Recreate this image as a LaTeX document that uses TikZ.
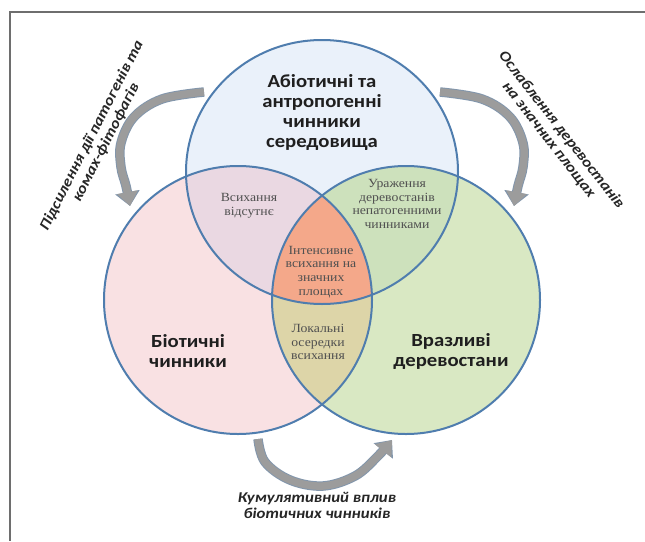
\documentclass[tikz,border=0pt]{standalone}
\usepackage{fontspec}
\setmainfont[FakeStretch=1.1]{Liberation Serif}
\newfontfamily\calfont[FakeStretch=1.12]{Carlito}
\newfontfamily\sidefont[FakeStretch=1.12]{Carlito}
\usetikzlibrary{arrows.meta}
\definecolor{cTop}{HTML}{EAF1FA}
\definecolor{cLeft}{HTML}{F9E1E3}
\definecolor{cRight}{HTML}{D9E8C3}
\definecolor{cTL}{HTML}{EAD8E2}
\definecolor{cTR}{HTML}{CDE1BC}
\definecolor{cLR}{HTML}{DDD5A8}
\definecolor{cAll}{HTML}{F4A88A}
\definecolor{edgeblue}{HTML}{4F7DAE}
\definecolor{framec}{HTML}{6E6E6E}
\definecolor{arrowgray}{HTML}{9C9C9C}
\definecolor{arrowedge}{HTML}{8296AC}
\definecolor{serifgray}{HTML}{505050}
\begin{document}
\begin{tikzpicture}[x=1pt,y=-1pt,
  big/.style={align=center, text=black!88, font=\calfont\bfseries\fontsize{18.5}{20}\selectfont},
  small/.style={align=center, text=serifgray, font=\fontsize{12.5}{13.8}\selectfont},
  side/.style={align=center, text=black!85, font=\sidefont\bfseries\itshape\fontsize{15}{16}\selectfont},
  garrowedge/.style={line width=9.5pt, draw=arrowedge, -{Triangle[length=14pt,width=24pt]}},
  garrow/.style={line width=7.5pt, draw=arrowgray, -{Triangle[length=14pt,width=20pt]}},
  ring/.style={draw=edgeblue, line width=2pt}]
\useasboundingbox (0,0) rectangle (645,541);
% frame
\draw[framec, line width=1.5pt] (645,12) -- (10,12) -- (10,541);
% circle centres
\coordinate (T) at (322,172);
\coordinate (L) at (238,300);
\coordinate (R) at (406,300);
% base fills
\fill[cTop] (T) ellipse[x radius=136pt, y radius=132pt];
\fill[cLeft] (L) circle[radius=134pt];
\fill[cRight] (R) circle[radius=134pt];
% pairwise overlaps
\begin{scope}
  \clip (T) ellipse[x radius=136pt, y radius=132pt];
  \fill[cTL] (L) circle[radius=134pt];
  \fill[cTR] (R) circle[radius=134pt];
\end{scope}
\begin{scope}
  \clip (L) circle[radius=134pt];
  \fill[cLR] (R) circle[radius=134pt];
\end{scope}
\begin{scope}
  \clip (T) ellipse[x radius=136pt, y radius=132pt];
  \clip (L) circle[radius=134pt];
  \fill[cAll] (R) circle[radius=134pt];
\end{scope}
% outlines
\draw[ring] (T) ellipse[x radius=136pt, y radius=132pt];
\draw[ring] (L) circle[radius=134pt];
\draw[ring] (R) circle[radius=134pt];
% main labels
\node[big] (tlab) at (322,112) {Абіотичні та\\антропогенні\\чинники\\середовища};
\node[big] (llab) at (188,351) {Біотичні\\чинники};
\node[big] (rlab) at (451,351) {Вразливі\\деревостани};
% overlap labels
\node[small] (tl) at (249,206) {Всихання\\відсутнє};
\node[small] (tr) at (397,204) {Ураження\\деревостанів\\непатогенними\\чинниками};
\node[small] (all) at (321,272) {Інтенсивне\\всихання на\\значних\\площах};
\node[small] (lr) at (318,342) {Локальні\\осередки\\всихання};
% curved arrows
\foreach \st in {garrowedge, garrow}{
\draw[\st] plot[smooth, tension=0.6] coordinates {(204,92) (162,99) (134,117) (121,143) (121,167) (126,186) (130,206)};
\draw[\st] plot[smooth, tension=0.6] coordinates {(440,92) (482,99) (510,117) (523,143) (523,167) (518,186) (514,206)};
\draw[\st] plot[smooth, tension=0.6] coordinates {(258,439) (265,462) (290,480) (323,486) (355,476) (377,457) (392,440)};
}
% side labels
\node[side, rotate=63] (sl) at (99,139) {Підсилення дії патогенів та\\комах-фітофагів};
\node[side, rotate=-52] (sr) at (555,135) {Ослаблення деревостанів\\на значних площах};
\node[side] (sb) at (317,505) {Кумулятивний вплив\\біотичних чинників};
\end{tikzpicture}
\end{document}
